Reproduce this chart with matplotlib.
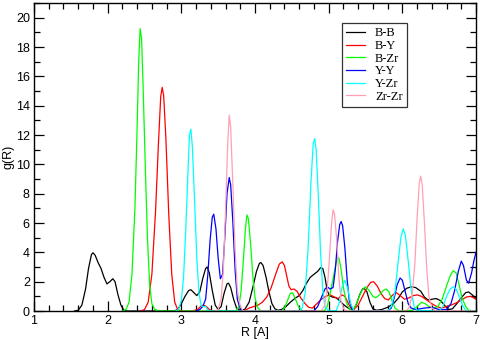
import numpy as np
import matplotlib
matplotlib.use('Agg')
import matplotlib.pyplot as plt
from matplotlib.ticker import MultipleLocator

#------
#data (R in A, g(R))
r_bb = [1.55, 1.60, 1.65, 1.70, 1.74, 1.78, 1.80, 1.83, 1.87, 1.91, 1.95, 1.99, 2.03, 2.07, 2.10, 2.14, 2.18, 2.22, 2.26,
        2.90, 2.95, 3.00, 3.05, 3.10, 3.13, 3.17, 3.21, 3.25, 3.29, 3.33, 3.35, 3.38, 3.42, 3.46, 3.50, 3.54, 3.58, 3.62,
        3.64, 3.67, 3.71, 3.75, 3.80, 3.86, 3.92, 3.97, 4.02, 4.06, 4.08, 4.11, 4.15, 4.19, 4.23, 4.27, 4.31, 4.36, 4.42,
        4.48, 4.54, 4.60, 4.65, 4.70, 4.75, 4.80, 4.85, 4.89, 4.92, 4.95, 4.98, 5.01, 5.05, 5.10, 5.15, 5.20, 5.25, 5.30,
        5.34, 5.38, 5.42, 5.46, 5.48, 5.52, 5.56, 5.60, 5.65, 5.72, 5.80, 5.88, 5.95, 6.00, 6.06, 6.12, 6.18, 6.25, 6.30,
        6.35, 6.40, 6.46, 6.52, 6.58, 6.63, 6.68, 6.74, 6.80, 6.86, 6.90, 6.95, 7.00]
g_bb = [0, 0.05, 0.4, 1.5, 2.9, 3.85, 3.97, 3.8, 3.3, 2.9, 2.3, 1.85, 2.0, 2.2, 2.0, 1.1, 0.4, 0.05, 0,
        0, 0.1, 0.5, 1.0, 1.4, 1.45, 1.25, 1.05, 1.3, 2.2, 2.9, 3.0, 2.6, 1.4, 0.4, 0.1, 0.3, 1.2, 1.85,
        1.9, 1.6, 0.8, 0.2, 0.05, 0.1, 0.6, 1.6, 2.7, 3.25, 3.3, 3.1, 2.3, 1.3, 0.5, 0.15, 0.05, 0.1, 0.3,
        0.6, 0.85, 1.05, 1.4, 1.9, 2.3, 2.5, 2.7, 2.95, 2.9, 2.3, 1.4, 1.05, 0.95, 0.9, 0.7, 0.45, 0.25, 0.1,
        0.1, 0.5, 1.1, 1.5, 1.55, 1.3, 0.6, 0.15, 0.05, 0.1, 0.25, 0.5, 0.9, 1.3, 1.55, 1.65, 1.6, 1.35, 0.95,
        0.75, 0.8, 0.85, 0.7, 0.35, 0.1, 0.15, 0.5, 0.9, 1.25, 1.3, 1.1, 0.85]

r_by = [2.45, 2.50, 2.55, 2.60, 2.65, 2.69, 2.72, 2.74, 2.76, 2.79, 2.83, 2.87, 2.91, 2.95, 3.00, 3.15, 3.22, 3.27,
        3.30, 3.34, 3.38, 3.43, 3.85, 3.92, 3.98, 4.04, 4.10, 4.16, 4.22, 4.28, 4.33, 4.37, 4.40, 4.43, 4.46, 4.49,
        4.53, 4.57, 4.62, 4.68, 4.73, 4.78, 4.84, 4.90, 4.96, 5.02, 5.08, 5.13, 5.18, 5.22, 5.26, 5.30, 5.34, 5.40,
        5.46, 5.52, 5.57, 5.61, 5.66, 5.71, 5.76, 5.81, 5.87, 5.92, 5.97, 6.03, 6.09, 6.15, 6.20, 6.26, 6.33, 6.40,
        6.47, 6.53, 6.60, 6.66, 6.73, 6.80, 6.87, 6.93, 7.00]
g_by = [0, 0.1, 0.6, 2.5, 6.8, 11.5, 14.6, 15.25, 14.7, 11.8, 6.5, 2.5, 0.6, 0.1, 0, 0, 0.1, 0.35,
        0.4, 0.3, 0.1, 0, 0, 0.2, 0.3, 0.4, 0.6, 0.95, 1.6, 2.5, 3.2, 3.35, 3.1, 2.4, 1.7, 1.45,
        1.5, 1.35, 0.9, 0.5, 0.25, 0.2, 0.5, 0.8, 1.0, 1.1, 0.95, 0.85, 1.1, 1.0, 0.6, 0.2, 0.1, 0.4,
        1.0, 1.6, 1.95, 2.0, 1.7, 1.2, 0.85, 0.75, 1.1, 1.25, 1.05, 0.8, 0.9, 1.05, 1.1, 1.0, 0.75, 0.5,
        0.3, 0.2, 0.3, 0.4, 0.55, 0.75, 0.95, 1.0, 0.8]

r_bzr = [2.20, 2.25, 2.29, 2.33, 2.37, 2.40, 2.42, 2.44, 2.46, 2.48, 2.51, 2.54, 2.57, 2.60, 2.64, 2.70, 3.74, 3.78,
         3.81, 3.84, 3.87, 3.89, 3.91, 3.94, 3.97, 4.00, 4.04, 4.08, 4.36, 4.40, 4.44, 4.48, 4.51, 4.55, 4.59, 4.63,
         4.68, 4.94, 4.98, 5.02, 5.06, 5.09, 5.12, 5.14, 5.17, 5.20, 5.24, 5.28, 5.32, 5.36, 5.40, 5.45, 5.50, 5.55,
         5.60, 5.64, 5.69, 5.74, 5.78, 5.82, 5.86, 5.90, 5.94, 6.00, 6.14, 6.20, 6.26, 6.31, 6.36, 6.42, 6.48, 6.54,
         6.60, 6.65, 6.69, 6.73, 6.77, 6.81, 6.86, 6.90, 7.00]
g_bzr = [0, 0.1, 0.6, 2.5, 7.0, 12.5, 16.8, 19.25, 18.6, 15.5, 10.0, 5.0, 1.8, 0.5, 0.1, 0, 0, 0.3,
         1.3, 3.3, 5.6, 6.55, 6.3, 4.6, 2.4, 0.9, 0.2, 0, 0, 0.2, 0.7, 1.2, 1.25, 0.8, 0.3, 0.05,
         0, 0, 0.3, 1.2, 2.2, 3.0, 3.65, 3.6, 2.8, 1.6, 0.6, 0.15, 0.05, 0.3, 0.8, 1.4, 1.65, 1.4,
         1.0, 0.9, 1.1, 1.4, 1.5, 1.3, 0.7, 0.2, 0.05, 0, 0.05, 0.3, 0.6, 0.5, 0.3, 0.2, 0.3, 0.8,
         1.7, 2.4, 2.75, 2.6, 1.8, 0.9, 0.3, 0.05, 0]

r_yy = [3.20, 3.25, 3.29, 3.33, 3.36, 3.39, 3.42, 3.44, 3.47, 3.50, 3.53, 3.56, 3.59, 3.62, 3.65, 3.67, 3.70, 3.73,
        3.76, 3.80, 3.85, 4.80, 4.85, 4.90, 4.95, 4.98, 5.02, 5.06, 5.09, 5.12, 5.15, 5.17, 5.19, 5.22, 5.25, 5.28,
        5.32, 5.36, 5.80, 5.85, 5.89, 5.93, 5.97, 6.00, 6.04, 6.08, 6.12, 6.18, 6.30, 6.40, 6.50, 6.60, 6.66, 6.71,
        6.76, 6.80, 6.83, 6.87, 6.90, 6.94, 6.97, 7.00]
g_yy = [0, 0.1, 0.3, 0.8, 2.5, 4.8, 6.4, 6.6, 5.6, 3.6, 2.2, 2.5, 5.0, 8.0, 9.1, 8.6, 6.0, 2.8,
        0.8, 0.15, 0, 0, 0.3, 0.9, 1.5, 1.65, 1.5, 1.6, 2.8, 4.7, 5.9, 6.1, 5.8, 4.3, 2.2, 0.7,
        0.1, 0, 0, 0.2, 0.9, 1.8, 2.25, 2.1, 1.3, 0.5, 0.2, 0.1, 0.2, 0.25, 0.1, 0.1, 0.5, 1.4,
        2.7, 3.4, 3.1, 2.1, 1.9, 2.6, 3.4, 4.0]

r_yzr = [2.92, 2.96, 3.00, 3.03, 3.06, 3.09, 3.11, 3.13, 3.15, 3.18, 3.21, 3.24, 3.27, 3.30, 3.33, 3.36, 3.40, 4.60,
         4.64, 4.68, 4.72, 4.76, 4.79, 4.81, 4.83, 4.86, 4.89, 4.92, 4.95, 4.99, 5.10, 5.14, 5.18, 5.22, 5.26, 5.30,
         5.34, 5.40, 5.80, 5.85, 5.90, 5.94, 5.98, 6.01, 6.04, 6.08, 6.12, 6.16, 6.20, 6.50, 6.55, 6.60, 6.65, 6.69,
         6.73, 6.77, 6.82, 6.86, 6.92, 7.00]
g_yzr = [0, 0.1, 0.7, 2.3, 5.5, 9.5, 12.0, 12.4, 11.2, 7.5, 3.6, 1.2, 0.35, 0.3, 0.3, 0.05, 0, 0,
         0.2, 1.2, 4.2, 8.8, 11.4, 11.75, 11.0, 7.8, 4.0, 1.4, 0.3, 0.05, 0, 0.5, 1.6, 2.1, 1.5, 0.5,
         0.05, 0, 0, 0.3, 1.3, 3.2, 5.0, 5.6, 5.2, 3.4, 1.4, 0.3, 0.05, 0, 0.3, 1.0, 1.5, 1.65,
         1.5, 1.0, 0.35, 0.05, 0, 0]

r_zrzr = [3.46, 3.50, 3.54, 3.57, 3.60, 3.63, 3.65, 3.67, 3.70, 3.73, 3.76, 3.80, 3.84, 4.90, 4.94, 4.98, 5.01, 5.04,
          5.06, 5.08, 5.11, 5.14, 5.17, 5.21, 5.25, 6.05, 6.09, 6.13, 6.17, 6.20, 6.23, 6.25, 6.27, 6.30, 6.33, 6.36,
          6.40, 6.45, 7.00]
g_zrzr = [0, 0.1, 0.8, 2.8, 6.8, 11.5, 13.35, 12.5, 8.5, 4.2, 1.4, 0.3, 0, 0, 0.3, 1.4, 3.6, 6.0,
          6.9, 6.6, 4.8, 2.2, 0.6, 0.1, 0, 0, 0.2, 1.0, 3.2, 6.3, 8.7, 9.2, 8.6, 6.0, 3.0, 1.0,
          0.2, 0, 0]

series = [('B-B', r_bb, g_bb, 'black'),
          ('B-Y', r_by, g_by, '#ff0000'),
          ('B-Zr', r_bzr, g_bzr, '#00ff00'),
          ('Y-Y', r_yy, g_yy, '#0000ff'),
          ('Y-Zr', r_yzr, g_yzr, '#00ffff'),
          ('Zr-Zr', r_zrzr, g_zrzr, '#ffa0b4')]

#------
#plot
fig = plt.figure(figsize=(4.8, 3.4), dpi=100)
ax = fig.add_axes([34/480, 29/340, 442/480, 308/340])

for name, r, g, col in series:
    ax.plot(np.array(r), np.array(g), color=col, lw=0.9, label=name)

ax.set_xlim(1, 7)
ax.set_ylim(0, 21)
ax.xaxis.set_major_locator(MultipleLocator(1))
ax.xaxis.set_minor_locator(MultipleLocator(0.2))
ax.yaxis.set_major_locator(MultipleLocator(2))
ax.yaxis.set_minor_locator(MultipleLocator(1))
ax.tick_params(which='both', direction='in', top=True, right=True, labelsize=9, pad=3)
ax.tick_params(which='major', length=7, width=0.9)
ax.tick_params(which='minor', length=4, width=0.9)
for s in ax.spines.values():
    s.set_linewidth(1.0)
for lab in ax.get_xticklabels() + ax.get_yticklabels():
    lab.set_family('Liberation Sans')

ax.set_xlabel('R [A]', fontsize=9, family='Liberation Sans', labelpad=0)
ax.set_ylabel('g(R)', fontsize=9, family='Liberation Sans')
ax.yaxis.set_label_coords(-20/442, 0.5)

leg = ax.legend(loc='upper left', bbox_to_anchor=((342-34)/442, (311-23)/308),
                prop={'family': 'Liberation Serif', 'size': 9}, frameon=True, fancybox=False,
                borderpad=0.35, handlelength=1.5, handletextpad=0.8, labelspacing=0.05,
                borderaxespad=0)
leg.get_frame().set_edgecolor('black')
leg.get_frame().set_linewidth(0.9)

fig.savefig('out.png', dpi=100)
